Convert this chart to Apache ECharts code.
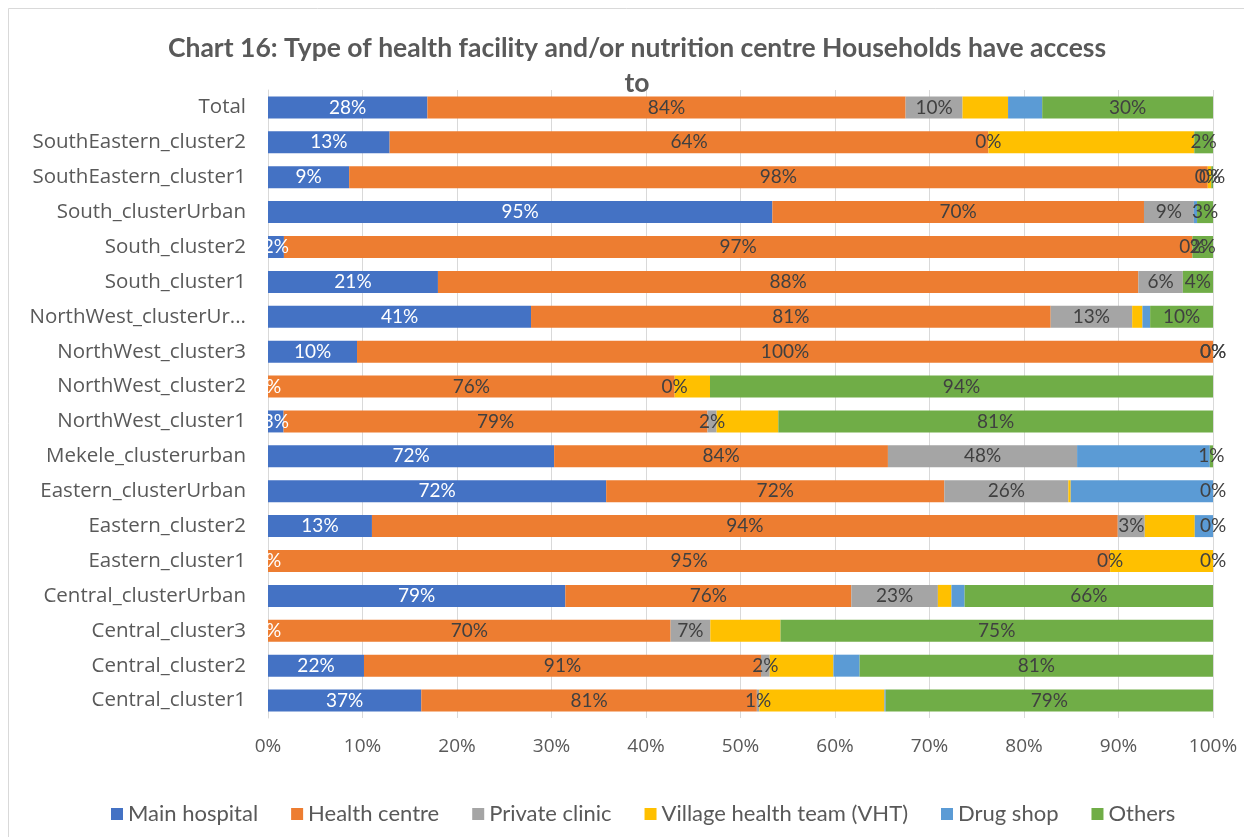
<!DOCTYPE html>
<html><head><meta charset="utf-8">
<script src="https://cdn.jsdelivr.net/npm/echarts@6/dist/echarts.min.js"></script>
<style>html,body{margin:0;padding:0;background:#fff}#c{width:1244px;height:837px}</style>
</head><body><div id="c"></div>
<script>
const categories = ["Total","SouthEastern_cluster2","SouthEastern_cluster1","South_clusterUrban","South_cluster2","South_cluster1","NorthWest_clusterUr...","NorthWest_cluster3","NorthWest_cluster2","NorthWest_cluster1","Mekele_clusterurban","Eastern_clusterUrban","Eastern_cluster2","Eastern_cluster1","Central_clusterUrban","Central_cluster3","Central_cluster2","Central_cluster1"];
const seriesNames = ["Main hospital","Health centre","Private clinic","Village health team (VHT)","Drug shop","Others"];
const mainHospital  = [28, 13, 9.3, 95, 1.7, 21.4, 41, 10.4, 0, 2.9, 72, 72, 13.1, 0, 79, 0, 22, 37];
const healthCentre  = [84, 64, 98.4, 70, 97, 88.2, 81, 100, 76, 79, 84, 72, 94, 95, 76, 70, 91, 81];
const privateClinic = [10, 0, 0, 9.4, 0, 5.6, 12.7, 0, 0, 1.7, 47.6, 26.4, 3.4, 0, 23, 6.9, 2, 0.6];
const vht           = [8, 22, 0.4, 0, 0, 0, 1.6, 0, 6.6, 11.5, 0, 0.5, 6.3, 11.6, 3.6, 12.2, 14.6, 30.2];
const drugShop      = [6, 0, 0, 0.6, 0, 0, 1.2, 0, 0, 0, 33.4, 30.3, 2.3, 0, 3.5, 0, 6, 0.3];
const others        = [30, 2, 0.2, 3, 2.2, 3.8, 9.8, 0, 94, 81, 0.8, 0, 0, 0, 66, 75.2, 81, 79];
const xTicks = [0,10,20,30,40,50,60,70,80,90,100];

const allSeries = [mainHospital, healthCentre, privateClinic, vht, drugShop, others];
const colors = ["#4472C4","#ED7D31","#A5A5A5","#FFC000","#5B9BD5","#70AD47"];
const showLabel = [true, true, true, false, false, true];
const totals = categories.map((_, r) => allSeries.reduce((s, a) => s + a[r], 0));
const font = "Lato, 'Noto Sans', sans-serif";
const axisFont = "'Open Sans', 'Noto Sans', sans-serif";

const series = allSeries.map((arr, i) => ({
  name: seriesNames[i],
  type: 'bar',
  stack: 'all',
  barCategoryGap: '37%',
  itemStyle: { color: colors[i] },
  label: {
    show: showLabel[i],
    position: 'inside',
    color: i === 0 ? '#ffffff' : '#404040',
    fontFamily: font,
    fontSize: 19,
    formatter: p => Math.round(p.data.raw) + '%'
  },
  labelLayout: { hideOverlap: false },
  data: arr.map((v, r) => ({ value: v / totals[r] * 100, raw: v }))
}));

const chart = echarts.init(document.getElementById('c'), null, { renderer: 'canvas' });
chart.setOption({
  backgroundColor: '#ffffff',
  animation: false,
  graphic: [{ type: 'rect', shape: { x: 8.5, y: 8.5, width: 1260, height: 860 }, style: { fill: 'none', stroke: '#d9d9d9', lineWidth: 1 }, z: -10 }],
  title: {
    text: 'Chart 16: Type of health facility and/or nutrition centre Households have access\nto',
    left: 632, top: 26, textAlign: 'center',
    textStyle: { fontFamily: font, fontSize: 26.5, fontWeight: 'bold', color: '#595959', lineHeight: 35 }
  },
  legend: {
    bottom: 7, left: 106, itemWidth: 12, itemHeight: 12, itemGap: 33, icon: 'rect',
    textStyle: { fontFamily: font, fontSize: 22, color: '#595959' },
    data: seriesNames
  },
  grid: { left: 268, right: 31, top: 90, bottom: 119, containLabel: false },
  xAxis: {
    type: 'value', min: 0, max: 100, interval: 10,
    axisLabel: { formatter: v => xTicks.includes(v) ? v + '%' : '', fontFamily: axisFont, fontSize: 19, color: '#595959', margin: 19 },
    splitLine: { lineStyle: { color: '#d9d9d9' } },
    axisLine: { show: false }, axisTick: { show: false }
  },
  yAxis: {
    type: 'category', data: categories, inverse: true,
    axisLabel: { fontFamily: axisFont, fontSize: 20.5, color: '#595959', margin: 22 },
    axisLine: { show: true, lineStyle: { color: '#d9d9d9' } },
    axisTick: { show: false }
  },
  series: series
});
</script></body></html>
